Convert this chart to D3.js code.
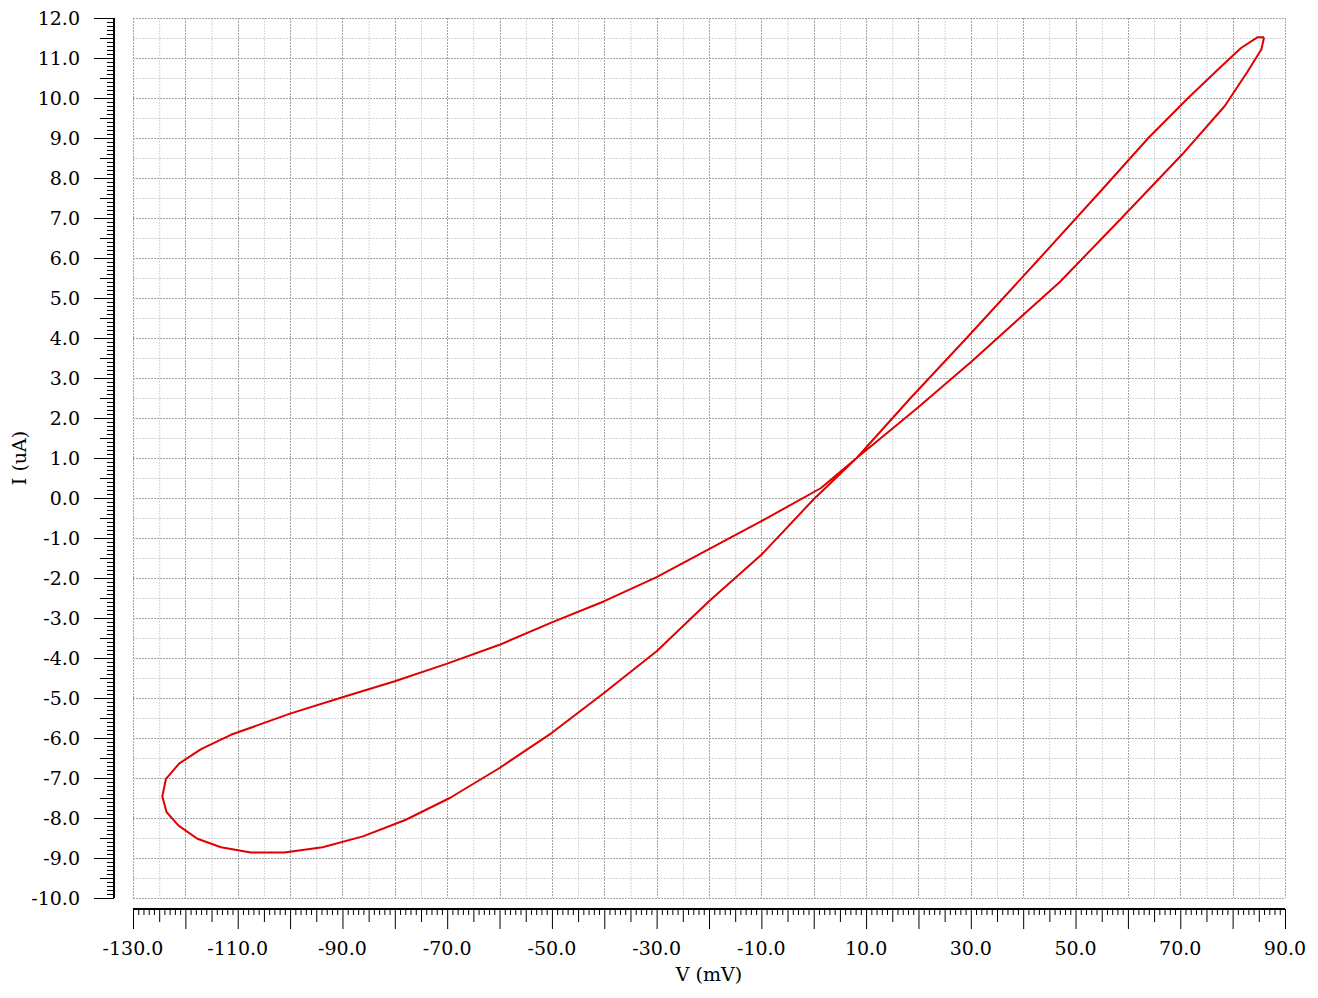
<!DOCTYPE html>
<html>
<head>
<meta charset="utf-8">
<script src="https://cdn.jsdelivr.net/npm/d3@7"></script>
<style>
	body { margin: 0; background: #fff; }
	text { font-family: "DejaVu Serif", serif; fill: #000; }
</style>
</head>
<body>
<div id="chart"></div>
<script>
// Voltage points of the I-V loop (mV)
var voltage = [86.0, 84.8, 81.6, 77.5, 71.5, 63.9, 55.0, 43.2, 29.2, 18.5, 8.2, 0.0,
	-10.0, -20.0, -30.0, -40.0, -50.0, -60.0, -69.5, -78.0, -86.1, -93.8, -101.1, -107.5,
	-113.2, -117.7, -121.3, -123.6, -124.4, -123.7, -121.2, -117.0, -111.3, -100.0, -90.0,
	-80.0, -70.0, -60.0, -50.0, -40.0, -30.0, -20.0, -10.0, 1.4, 8.2, 19.8, 30.2, 47.0,
	58.8, 70.3, 78.5, 82.8, 85.5, 86.0];

// Current points of the loop (uA)
var current = [11.52, 11.52, 11.25, 10.75, 10.0, 9.0, 7.7, 6.0, 4.0, 2.5, 1.0, -0.03,
	-1.42, -2.58, -3.83, -4.87, -5.87, -6.75, -7.5, -8.05, -8.46, -8.73, -8.86, -8.86,
	-8.73, -8.52, -8.19, -7.85, -7.46, -7.02, -6.64, -6.28, -5.92, -5.39, -4.98,
	-4.58, -4.14, -3.67, -3.11, -2.58, -1.98, -1.28, -0.58, 0.25, 1.0, 2.25, 3.42, 5.4,
	7.0, 8.58, 9.8, 10.65, 11.22, 11.52];

// Axis ranges and labelled ticks
var xDomain = [-130, 90];
var yDomain = [-10, 12];
var xLabelTicks = d3.range(-130, 91, 20);
var yLabelTicks = d3.range(-10, 12.01, 1);

var svgWidth = 1318;
var svgHeight = 998;

var margin = {
	top: 18,
	right: 33,
	bottom: 100,
	left: 133
};

var width = svgWidth - margin.left - margin.right;
var height = svgHeight - margin.top - margin.bottom;

var svg = d3.select("#chart")
	.append("svg")
	.attr("width", svgWidth)
	.attr("height", svgHeight);

var chartGroup = svg.append("g")
	.attr("transform", `translate(${margin.left}, ${margin.top})`);

var xScale = d3.scaleLinear().domain(xDomain).range([0, width]);
var yScale = d3.scaleLinear().domain(yDomain).range([height, 0]);

var fmt = d => d.toFixed(1);

// grid - minor first, then major on top
var xMinor = d3.range(-125, 90, 10);
var xMajor = d3.range(-130, 90.01, 10);
var yMinor = d3.range(-9.5, 12, 1);
var yMajor = d3.range(-10, 12.01, 1);

var grid = chartGroup.append("g").attr("class", "grid");

grid.selectAll(".vminor")
	.data(xMinor)
	.enter()
	.append("line")
	.attr("x1", d => xScale(d) + 0.5)
	.attr("x2", d => xScale(d) + 0.5)
	.attr("y1", 0)
	.attr("y2", height)
	.attr("stroke", "#d4d4d4")
	.attr("stroke-dasharray", "2,1");

grid.selectAll(".hminor")
	.data(yMinor)
	.enter()
	.append("line")
	.attr("x1", 0)
	.attr("x2", width)
	.attr("y1", d => Math.round(yScale(d)) + 0.5)
	.attr("y2", d => Math.round(yScale(d)) + 0.5)
	.attr("stroke", "#d4d4d4")
	.attr("stroke-dasharray", "2,1");

grid.selectAll(".vmajor")
	.data(xMajor)
	.enter()
	.append("line")
	.attr("x1", d => Math.round(xScale(d)) + 0.5)
	.attr("x2", d => Math.round(xScale(d)) + 0.5)
	.attr("y1", 0)
	.attr("y2", height)
	.attr("stroke", "#a4a4a4")
	.attr("stroke-dasharray", "2,1");

grid.selectAll(".hmajor")
	.data(yMajor)
	.enter()
	.append("line")
	.attr("x1", 0)
	.attr("x2", width)
	.attr("y1", d => Math.round(yScale(d)) + 0.5)
	.attr("y2", d => Math.round(yScale(d)) + 0.5)
	.attr("stroke", "#a4a4a4")
	.attr("stroke-dasharray", "2,1");

// x axis: minor every 1 mV, mid every 5, long every 10, labels every 20
var xAxisGroup = svg.append("g")
	.attr("transform", `translate(${margin.left}, ${margin.top + height + 11})`);

xAxisGroup.append("g")
	.call(d3.axisBottom(xScale).tickValues(d3.range(-130, 90.01, 1).filter(d => d % 5 !== 0)).tickSize(6).tickFormat(""))
	.call(g => g.select(".domain").remove());
xAxisGroup.append("g")
	.call(d3.axisBottom(xScale).tickValues(d3.range(-125, 90, 10)).tickSize(13).tickFormat(""))
	.call(g => g.select(".domain").remove());
xAxisGroup.append("g")
	.call(d3.axisBottom(xScale).tickValues(xMajor).tickSize(20).tickFormat(""))
	.call(g => g.select(".domain").remove());
xAxisGroup.append("line")
	.attr("x1", 0)
	.attr("x2", width)
	.attr("y1", 0)
	.attr("y2", 0)
	.attr("stroke", "#000")
	.attr("stroke-width", 2);
xAxisGroup.selectAll(".xlabel")
	.data(xLabelTicks)
	.enter()
	.append("text")
	.attr("x", d => xScale(d))
	.attr("y", 46)
	.attr("text-anchor", "middle")
	.style("font-size", "19px")
	.text(fmt);

// y axis: minor every 0.1, mid every 0.5, long every 1.0
var yAxisGroup = svg.append("g")
	.attr("transform", `translate(${margin.left - 19}, ${margin.top})`);

yAxisGroup.append("g")
	.call(d3.axisLeft(yScale).tickValues(d3.range(-100, 121, 1).filter(d => d % 5 !== 0).map(d => d / 10)).tickSize(7).tickFormat(""))
	.call(g => g.select(".domain").remove());
yAxisGroup.append("g")
	.call(d3.axisLeft(yScale).tickValues(yMinor).tickSize(14).tickFormat(""))
	.call(g => g.select(".domain").remove());
yAxisGroup.append("g")
	.call(d3.axisLeft(yScale).tickValues(yLabelTicks).tickSize(20).tickFormat(""))
	.call(g => g.select(".domain").remove());
yAxisGroup.append("line")
	.attr("x1", 0)
	.attr("x2", 0)
	.attr("y1", 0)
	.attr("y2", height)
	.attr("stroke", "#000")
	.attr("stroke-width", 2);
yAxisGroup.selectAll(".ylabel")
	.data(yLabelTicks)
	.enter()
	.append("text")
	.attr("x", -34)
	.attr("y", d => yScale(d))
	.attr("dy", "0.36em")
	.attr("text-anchor", "end")
	.style("font-size", "19px")
	.text(fmt);

// axis titles
svg.append("text")
	.attr("x", margin.left + width / 2)
	.attr("y", 981)
	.attr("text-anchor", "middle")
	.style("font-size", "19px")
	.text("V (mV)");

svg.append("text")
	.attr("transform", `translate(26, ${margin.top + height / 2}) rotate(-90)`)
	.attr("text-anchor", "middle")
	.style("font-size", "19px")
	.text("I (uA)");

// the loop itself
var loopData = voltage.map((v, i) => [v, current[i]]);

var line = d3.line()
	.x(d => xScale(d[0]))
	.y(d => yScale(d[1]));

chartGroup.append("path")
	.datum(loopData)
	.attr("d", line)
	.attr("fill", "none")
	.attr("stroke", "#e00000")
	.attr("stroke-width", 2)
	.attr("stroke-linejoin", "round");
</script>
</body>
</html>
